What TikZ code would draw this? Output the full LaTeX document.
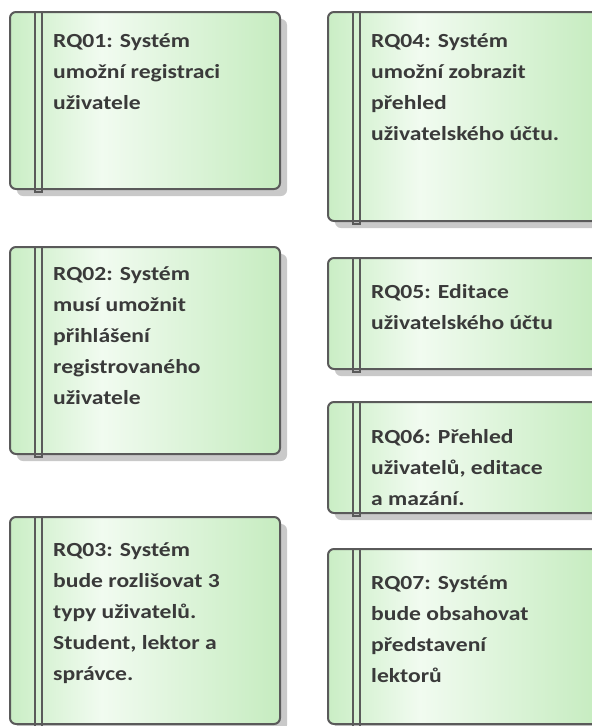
\documentclass[tikz,border=0pt]{standalone}
\usepackage{fontspec}
\setmainfont{Carlito}[FakeStretch=1.18]

\definecolor{noteEdge}{HTML}{5A5A5A}
\definecolor{noteShadow}{HTML}{C9C9C9}
\definecolor{noteInk}{HTML}{3A3A3A}
\definecolor{noteA}{HTML}{CAEEC5}
\definecolor{noteB}{HTML}{F1FBF0}
\definecolor{noteC}{HTML}{C6ECC0}

% green-white-green fill used by every requirement note
\pgfdeclarehorizontalshading{notegrad}{100bp}{%
  color(0bp)=(noteA); color(25bp)=(noteA); color(42bp)=(noteB);
  color(75bp)=(noteC); color(100bp)=(noteC)}

\tikzset{
  noteshadow/.style={fill=noteShadow, rounded corners=6pt},
  notebody/.style={draw=noteEdge, line width=2pt, rounded corners=6pt, shading=notegrad},
  notebar/.style={draw=noteEdge, line width=2pt},
  notetext/.style={anchor=base west, inner sep=0pt, text=noteInk,
    font=\bfseries\fontsize{20}{31}\selectfont},
}

% left-aligned lines whose baseline is that of the first line
\newcommand\notelines[1]{{\let\\\cr\vtop{\baselineskip=31pt\halign{##\hfil\cr#1\crcr}}}}

% #1 name, #2 left x, #3 top y, #4 bottom y, #5 first baseline y, #6 text
\newcommand\reqnote[6]{%
  \fill[noteshadow] (#2+7,#3+7) rectangle (#2+277,#4+7);
  \path[notebody] (#2,#3) rectangle (#2+270,#4);
  \draw[notebar] (#2+25,#3) rectangle (#2+32,#4+3);
  \node[notetext] (#1) at (#2+43,#5) {\notelines{#6}};
}

\begin{document}
\begin{tikzpicture}[x=1pt, y=-1pt]
  \useasboundingbox (0,0) rectangle (592,726);
  \clip (0,0) rectangle (592,726);

  % left column
  \reqnote{rq01}{10}{12}{189}{47}{RQ01: Systém\\umožní registraci\\uživatele}
  \reqnote{rq02}{10}{247}{454}{280}{RQ02: Systém\\musí umožnit\\přihlášení\\registrovaného\\uživatele}
  \reqnote{rq03}{10}{517}{724}{556}{RQ03: Systém\\bude rozlišovat 3\\typy uživatelů.\\Student, lektor a\\správce.}

  % right column
  \reqnote{rq04}{328}{12}{221}{47}{RQ04: Systém\\umožní zobrazit\\přehled\\uživatelského účtu.}
  \reqnote{rq05}{328}{258}{369}{298}{RQ05: Editace\\uživatelského účtu}
  \reqnote{rq06}{328}{402}{513}{443}{RQ06: Přehled\\uživatelů, editace\\a mazání.}
  \reqnote{rq07}{328}{549}{724}{589}{RQ07: Systém\\bude obsahovat\\představení\\lektorů}
\end{tikzpicture}
\end{document}
